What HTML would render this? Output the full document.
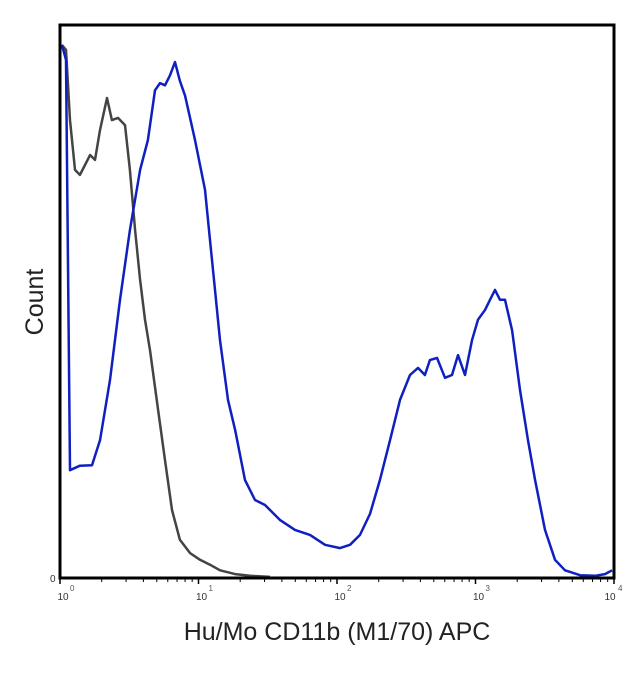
<!DOCTYPE html>
<html><head><meta charset="utf-8"><style>
body{margin:0;background:#fff;width:640px;height:672px;overflow:hidden;font-family:"Liberation Sans",sans-serif}
</style></head><body>
<svg id="chart" width="640" height="672" xmlns="http://www.w3.org/2000/svg">
<g id="plot"></g>
<text x="0" y="0" transform="translate(43,302) rotate(-90)" text-anchor="middle" font-size="25" fill="#222">Count</text>
<text x="337" y="640" text-anchor="middle" font-size="25" fill="#222">Hu/Mo CD11b (M1/70) APC</text>
<text x="50" y="582" font-size="10" fill="#333">0</text>
</svg>
<script>
const blueLog=[0.014,0.043,0.072,0.144,0.231,0.289,0.361,0.433,0.505,0.578,0.635,0.686,0.722,0.758,0.794,0.830,0.866,0.903,0.975,1.047,1.083,1.119,1.155,1.213,1.264,1.336,1.408,1.480,1.588,1.697,1.805,1.913,2.022,2.094,2.166,2.238,2.310,2.383,2.455,2.527,2.585,2.635,2.671,2.722,2.780,2.830,2.874,2.924,2.975,3.018,3.069,3.105,3.141,3.177,3.213,3.264,3.321,3.379,3.430,3.502,3.574,3.646,3.755,3.863,3.935,3.986];
const blueCount=[96.4,93.7,19.5,20.3,20.4,24.9,35.8,50.3,62.9,73.8,79.2,88.2,89.5,89.1,90.9,93.3,89.9,87.2,79.2,70.2,61.1,52.1,43.0,32.2,26.8,17.7,14.1,13.2,10.5,8.7,7.8,6.0,5.4,6.0,7.8,11.6,17.7,24.9,32.2,36.7,38.0,36.7,39.4,39.8,36.2,36.7,40.3,36.7,43.0,46.7,48.5,50.3,52.1,50.3,50.3,44.8,34.0,24.9,17.7,8.7,3.3,1.4,0.5,0.4,0.7,1.4];
const grayLog=[0.014,0.043,0.072,0.108,0.144,0.217,0.253,0.289,0.339,0.375,0.419,0.469,0.505,0.542,0.578,0.614,0.650,0.708,0.758,0.809,0.866,0.939,1.011,1.083,1.155,1.264,1.372,1.516];
const grayCount=[96.4,95.5,82.8,73.8,72.9,76.5,75.6,81.0,86.8,82.8,83.2,81.9,73.8,62.9,53.9,46.7,41.2,30.4,21.3,12.3,6.9,4.5,3.3,2.4,1.4,0.7,0.4,0.2];
const decades=[0,1,2,3,4];
const decadeLabels=["10","10","10","10","10"];
const L=60,R=614,T=25,B=578;
const xs=v=>L+(v/4)*(R-L);
const ys=c=>B-(c/100)*(B-T);
const NS="http://www.w3.org/2000/svg";
const g=document.getElementById('plot');
function mk(t,a){const e=document.createElementNS(NS,t);for(const k in a)e.setAttribute(k,a[k]);g.appendChild(e);return e;}
function path(lx,cy){return lx.map((v,i)=>(i?'L':'M')+xs(v).toFixed(1)+','+ys(cy[i]).toFixed(1)).join(' ');}
const gp=mk('path',{d:path(grayLog,grayCount),fill:'none',stroke:'#444',"stroke-width":2.5,"stroke-linejoin":"round"});


const bp=mk('path',{d:path(blueLog,blueCount),fill:'none',stroke:'#1020c0',"stroke-width":2.5,"stroke-linejoin":"round"});


const fr=mk('rect',{x:L,y:T,width:R-L,height:B-T,fill:'none',stroke:'#000',"stroke-width":3});


decades.forEach((d,i)=>{
  const t=mk('line',{x1:xs(d),x2:xs(d),y1:B,y2:B+6,stroke:'#000',"stroke-width":1.5});
  
  
  const tx=mk('text',{x:xs(d)+ (i==4?-4:3),y:B+22,"font-size":10,fill:'#333',"text-anchor":"middle"});
  
  
  tx.textContent=decadeLabels[i];
  const sp=mk('text',{x:xs(d)+(i==4?4:10),y:B+13,"font-size":8,fill:'#555'});
  
  
  sp.textContent=String(d);
  if(d<4)for(let m=2;m<10;m++){
    const mx=xs(d+Math.log10(m));
    const mt=mk('line',{x1:mx,x2:mx,y1:B,y2:B+4,stroke:'#000',"stroke-width":1});
    
    
  }
});
</script>
</body></html>
